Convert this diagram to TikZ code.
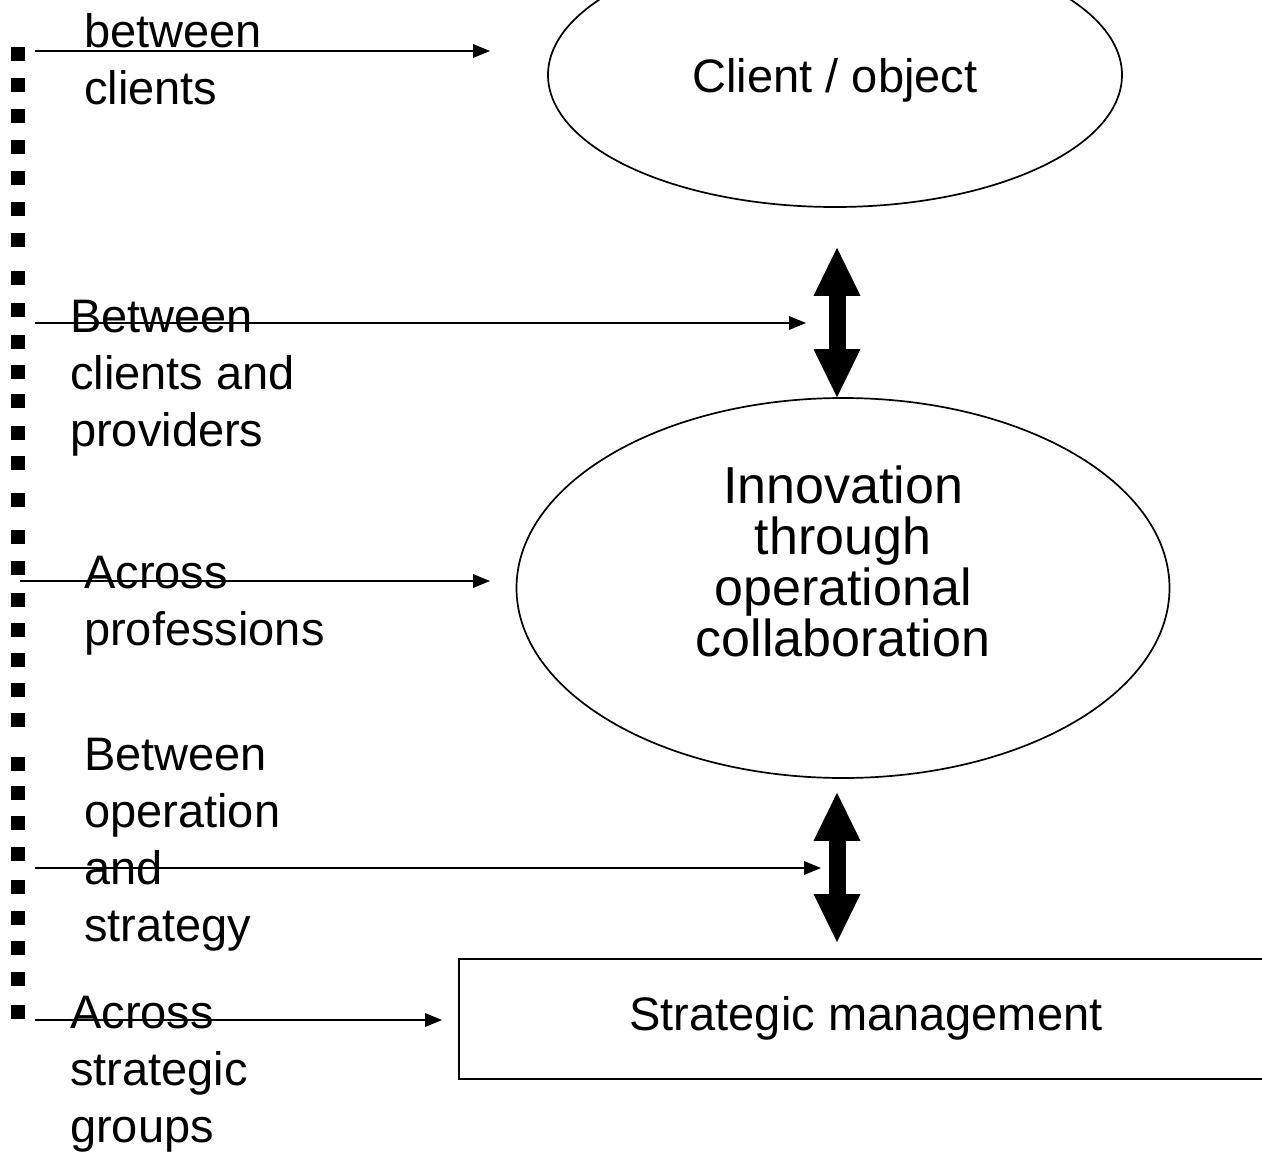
\documentclass[tikz,border=0pt]{standalone}
\usepackage{fontspec}
\setmainfont{Liberation Sans}
\usetikzlibrary{arrows.meta,shapes.geometric,calc}
\begin{document}
\begin{tikzpicture}[x=1pt,y=-1pt,
  lbl/.style={font=\fontsize{47}{57}\selectfont, align=left, anchor=north west, inner sep=0pt},
  oval/.style={ellipse, draw, line width=1.7pt, inner sep=0pt},
  thinarrow/.style={line width=2.2pt, -{Triangle[length=17pt,width=14pt,line width=0pt]}},
  dblarrow/.style={line width=17pt, {Triangle[length=48pt,width=47pt,line width=0pt]}-{Triangle[length=48pt,width=47pt,line width=0pt]}},
  bullet/.style={fill=black}
]
\useasboundingbox (0,0) rectangle (1262,1154);
\fill[white] (0,0) rectangle (1262,1154);

% bullets
\foreach \y in {54,85,116,147,178,209,240,278,310,342,372,401,433,463,500,537,568,600,630,660,690,720,764,793,823,854,887,918,948,979,1012}
  \fill[bullet] (11,\y-7) rectangle ++(14,14);

% shapes
\node[oval, minimum width=574pt, minimum height=264pt] (client) at (835,75) {};
\node[anchor=base, inner sep=0pt, font=\fontsize{47}{57}\selectfont] (clienttext) at (835,92) {Client / object};

\node[oval, minimum width=653pt, minimum height=380pt] (innov) at (843,588) {};
\node[anchor=north, inner sep=0pt, align=center, font=\fontsize{52}{51}\selectfont] (innovtext) at (843,466) {Innovation\\through\\operational\\collaboration};

\node[draw, line width=1.7pt, anchor=north west, minimum width=900pt, minimum height=120pt, inner sep=0pt] (mgmt) at (458,958) {};
\node[anchor=base, inner sep=0pt, font=\fontsize{47}{57}\selectfont] (mgmttext) at (866,1030) {Strategic management};

% labels
\node[lbl] (l1) at (84,13) {between\\clients};
\node[lbl] (l2) at (70,300) {Between\\clients and\\providers};
\node[lbl] (l3) at (84,556) {Across\\professions};
\node[lbl] (l4) at (84,738) {Between\\operation\\and\\strategy};
\node[lbl] (l5) at (70,996) {Across\\strategic\\groups};

% thin arrows
\coordinate (s1) at (35,51);   \coordinate (e1) at (490,51);
\coordinate (s2) at (35,323);  \coordinate (e2) at (806,323);
\coordinate (s3) at (20,581);  \coordinate (e3) at (490,581);
\coordinate (s4) at (35,868);  \coordinate (e4) at (821,868);
\coordinate (s5) at (35,1020); \coordinate (e5) at (442,1020);
\draw[thinarrow] (s1) -- (e1);
\draw[thinarrow] (s2) -- (e2);
\draw[thinarrow] (s3) -- (e3);
\draw[thinarrow] (s4) -- (e4);
\draw[thinarrow] (s5) -- (e5);

% double arrows
\coordinate (ax) at (837,0);
\draw[dblarrow, shorten <=40pt] (client.south -| ax) -- (innov.north -| ax);
\draw[dblarrow, shorten <=14pt, shorten >=16pt] (innov.south -| ax) -- (mgmt.north -| ax);
\end{tikzpicture}
\end{document}
